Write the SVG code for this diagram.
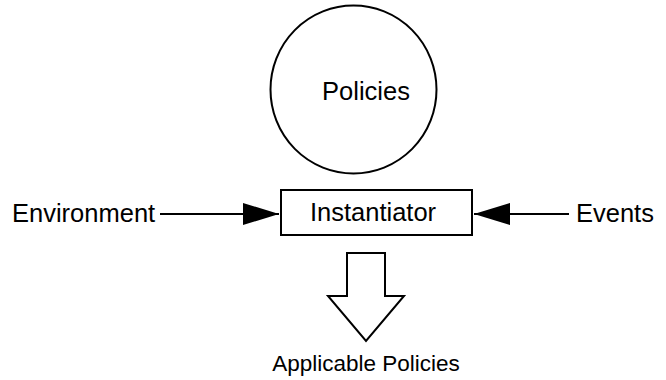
<svg xmlns="http://www.w3.org/2000/svg" width="666" height="380" viewBox="0 0 666 380">
  <style>
    .shape { fill: #ffffff; stroke: #000000; stroke-width: 2; }
    .wire { fill: none; stroke: #000000; stroke-width: 2; }
    .label { font-family: "Liberation Sans", Arial, sans-serif; font-size: 25.5px; fill: #000000; }
    .small { font-size: 22.5px; }
  </style>
  <defs>
    <marker id="head" viewBox="0 0 36 22" refX="36" refY="11" markerWidth="36" markerHeight="22" markerUnits="userSpaceOnUse" orient="auto">
      <path d="M0,0 L36,11 L0,22 Z" fill="#000000"/>
    </marker>
  </defs>

  <g id="policies">
    <ellipse class="shape" cx="353.5" cy="89.5" rx="83" ry="84"/>
    <text class="label" x="366" y="100" text-anchor="middle">Policies</text>
  </g>

  <g id="instantiator">
    <rect class="shape" x="281" y="190" width="191" height="45"/>
    <text class="label" x="373" y="221" text-anchor="middle">Instantiator</text>
  </g>

  <g id="environment">
    <text class="label" x="12" y="222">Environment</text>
  </g>

  <g id="events">
    <text class="label" x="576" y="222">Events</text>
  </g>

  <g id="applicable-policies">
    <text class="label small" x="366" y="371" text-anchor="middle">Applicable Policies</text>
  </g>

  <g id="connectors">
    <line class="wire" x1="160" y1="214" x2="279" y2="214" marker-end="url(#head)"/>
    <line class="wire" x1="569" y1="214" x2="474" y2="214" marker-end="url(#head)"/>
    <path class="shape" d="M347,253 L385,253 L385,296 L404,296 L366,341 L328,296 L347,296 Z"/>
  </g>
</svg>
